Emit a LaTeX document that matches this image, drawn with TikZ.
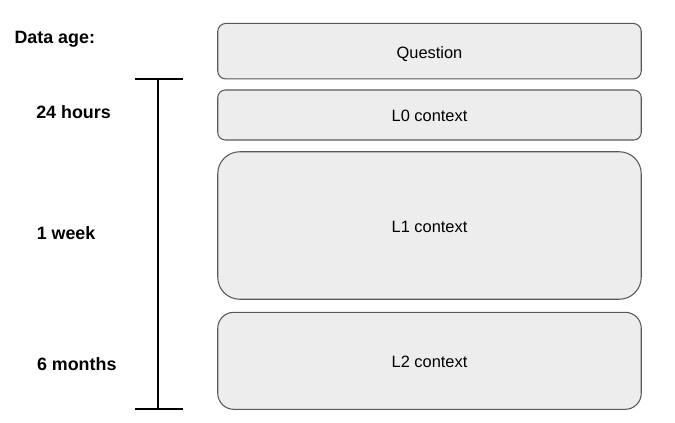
\documentclass[tikz,border=0pt]{standalone}
\usepackage{fontspec}
\setmainfont{Liberation Sans}
\begin{document}
\begin{tikzpicture}[x=0.75pt,y=-0.75pt,
  ctxbox/.style={draw=black!65,fill=black!7,line width=0.8pt,inner sep=0pt,
    text height=10.2pt,text depth=0pt,
    minimum width=0.75pt*423.5,font=\fontsize{12.3}{14}\selectfont},
  agelabel/.style={anchor=base west,inner sep=0pt,font=\fontsize{13.4}{15}\selectfont\bfseries},
  barline/.style={line width=2.2pt,black}]
\useasboundingbox (0,0) rectangle (675,422);
\node[ctxbox,minimum height=0.75pt*55.5,rounded corners=0.75pt*8] (q) at (429.5,51.2) {Question};
\node[ctxbox,minimum height=0.75pt*50,rounded corners=0.75pt*7.5] (l0) at (429.5,115) {L0 context};
\node[ctxbox,minimum height=0.75pt*147.5,rounded corners=0.75pt*22] (l1) at (429.5,225.5) {L1 context};
\node[ctxbox,minimum height=0.75pt*97,rounded corners=0.75pt*16] (l2) at (429.5,360.8) {L2 context};
\node[agelabel] (da) at (14.3,43.7) {Data age:};
\node[agelabel] (h24) at (36,118.3) {24 hours};
\node[agelabel] (wk) at (36.5,239.3) {1 week};
\node[agelabel] (mo) at (36.8,370.8) {6 months};
\coordinate (top) at (158,79);
\coordinate (bot) at (158,409);
\coordinate (tl) at (135,79);
\coordinate (tr) at (183,79);
\coordinate (bl) at (135,409);
\coordinate (br) at (183,409);
\draw[barline] (top) -- (bot);
\draw[barline] (tl) -- (tr);
\draw[barline] (bl) -- (br);
\end{tikzpicture}
\end{document}
